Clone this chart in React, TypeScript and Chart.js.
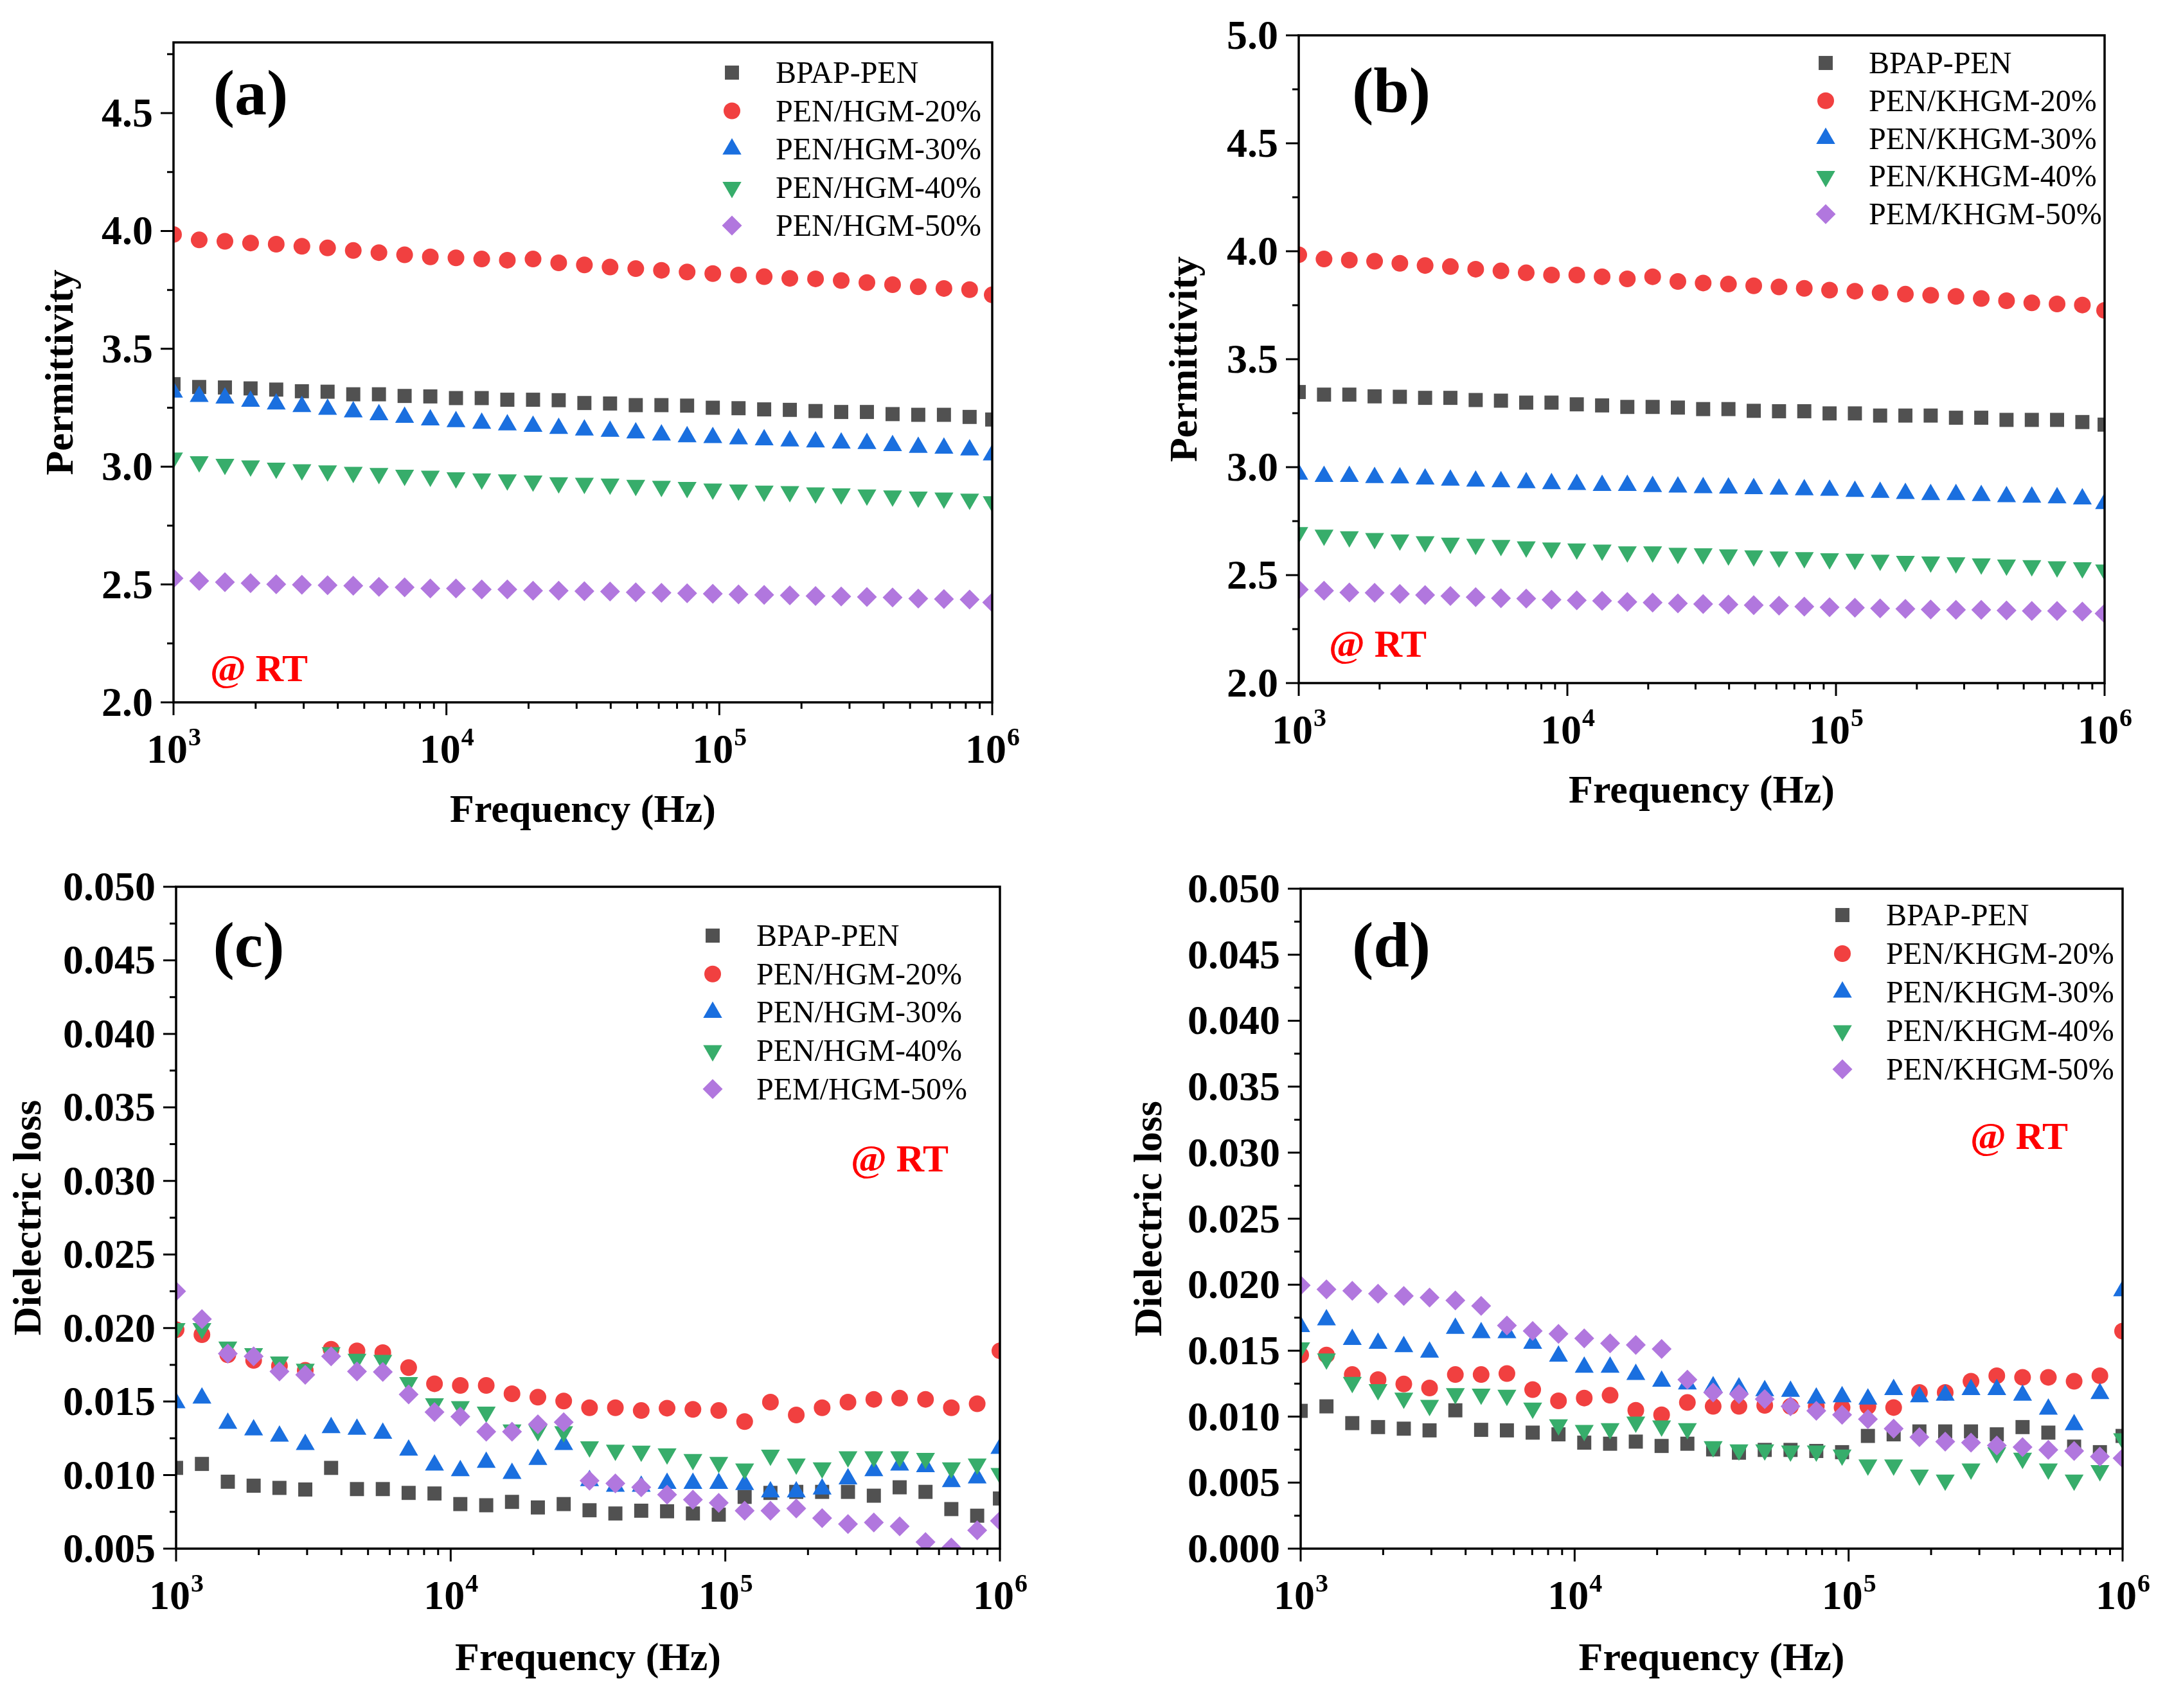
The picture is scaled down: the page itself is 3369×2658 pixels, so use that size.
import React, { useEffect, useRef } from 'react';
import { Chart, registerables } from 'chart.js';

Chart.register(...registerables);

const SERIF = '"Liberation Serif", "Times New Roman", serif';

// Frequency points (Hz)
const FREQ = [1000, 1242, 1543, 1916, 2379, 2954, 3669, 4557, 5659, 7028, 8730, 10840, 13470, 16720, 20770, 25790, 32030, 39780, 49410, 61370, 76210, 94650, 117600, 146000, 181300, 225200, 279700, 347400, 431400, 535800, 665400, 826400, 1000000];

const X_TICK_VALUES = [1e3, 1e4, 1e5, 1e6];
const X_TICK_EXPONENTS = ['3', '4', '5', '6'];

// (a) permittivity, HGM
const A_NAMES = ['BPAP-PEN', 'PEN/HGM-20%', 'PEN/HGM-30%', 'PEN/HGM-40%', 'PEN/HGM-50%'];
const A_YTICKS = [2.0, 2.5, 3.0, 3.5, 4.0, 4.5];
const A_BPAP = [3.350, 3.338, 3.336, 3.332, 3.327, 3.320, 3.318, 3.307, 3.307, 3.300, 3.298, 3.291, 3.291, 3.284, 3.284, 3.282, 3.270, 3.268, 3.261, 3.261, 3.259, 3.250, 3.248, 3.243, 3.241, 3.236, 3.232, 3.232, 3.223, 3.220, 3.220, 3.211, 3.200];
const A_20 = [3.985, 3.962, 3.956, 3.949, 3.944, 3.935, 3.928, 3.917, 3.908, 3.899, 3.890, 3.886, 3.881, 3.876, 3.881, 3.865, 3.856, 3.847, 3.840, 3.833, 3.826, 3.819, 3.813, 3.806, 3.799, 3.797, 3.790, 3.781, 3.772, 3.763, 3.756, 3.751, 3.729];
const A_30 = [3.316, 3.298, 3.291, 3.277, 3.266, 3.255, 3.243, 3.232, 3.220, 3.209, 3.198, 3.191, 3.184, 3.177, 3.171, 3.162, 3.155, 3.150, 3.143, 3.134, 3.127, 3.123, 3.118, 3.114, 3.109, 3.105, 3.100, 3.098, 3.089, 3.082, 3.078, 3.071, 3.050];
const A_40 = [3.037, 3.021, 3.010, 3.003, 2.994, 2.987, 2.982, 2.976, 2.971, 2.964, 2.960, 2.953, 2.948, 2.944, 2.939, 2.932, 2.930, 2.926, 2.921, 2.917, 2.912, 2.905, 2.901, 2.896, 2.894, 2.889, 2.885, 2.880, 2.876, 2.871, 2.867, 2.862, 2.851];
const A_50 = [2.526, 2.515, 2.510, 2.506, 2.501, 2.499, 2.497, 2.495, 2.490, 2.488, 2.483, 2.483, 2.479, 2.479, 2.474, 2.474, 2.472, 2.470, 2.467, 2.465, 2.463, 2.461, 2.458, 2.456, 2.454, 2.451, 2.449, 2.447, 2.445, 2.440, 2.438, 2.436, 2.424];

// (b) permittivity, KHGM
const B_NAMES = ['BPAP-PEN', 'PEN/KHGM-20%', 'PEN/KHGM-30%', 'PEN/KHGM-40%', 'PEM/KHGM-50%'];
const B_YTICKS = [2.0, 2.5, 3.0, 3.5, 4.0, 4.5, 5.0];
const B_BPAP = [3.348, 3.336, 3.336, 3.328, 3.326, 3.321, 3.321, 3.311, 3.308, 3.299, 3.299, 3.291, 3.286, 3.279, 3.279, 3.276, 3.269, 3.269, 3.261, 3.259, 3.259, 3.249, 3.249, 3.239, 3.239, 3.239, 3.229, 3.229, 3.219, 3.219, 3.219, 3.209, 3.197];
const B_20 = [3.984, 3.964, 3.959, 3.954, 3.944, 3.934, 3.929, 3.917, 3.909, 3.900, 3.890, 3.890, 3.882, 3.872, 3.882, 3.860, 3.853, 3.848, 3.840, 3.835, 3.828, 3.820, 3.815, 3.808, 3.801, 3.796, 3.791, 3.781, 3.771, 3.761, 3.756, 3.751, 3.726];
const B_30 = [2.967, 2.957, 2.957, 2.952, 2.950, 2.945, 2.940, 2.935, 2.932, 2.928, 2.923, 2.920, 2.915, 2.915, 2.910, 2.908, 2.905, 2.903, 2.900, 2.898, 2.895, 2.893, 2.888, 2.883, 2.878, 2.873, 2.873, 2.868, 2.863, 2.861, 2.858, 2.853, 2.831];
const B_40 = [2.697, 2.685, 2.678, 2.670, 2.663, 2.655, 2.648, 2.643, 2.638, 2.631, 2.626, 2.621, 2.616, 2.608, 2.608, 2.601, 2.599, 2.594, 2.589, 2.584, 2.581, 2.576, 2.574, 2.569, 2.564, 2.561, 2.557, 2.552, 2.547, 2.544, 2.539, 2.534, 2.524];
const B_50 = [2.433, 2.428, 2.420, 2.418, 2.413, 2.408, 2.403, 2.398, 2.393, 2.391, 2.386, 2.383, 2.381, 2.376, 2.373, 2.369, 2.366, 2.364, 2.361, 2.359, 2.354, 2.351, 2.349, 2.346, 2.344, 2.341, 2.339, 2.339, 2.336, 2.334, 2.334, 2.331, 2.322];

// (c) dielectric loss, HGM
const C_NAMES = ['BPAP-PEN', 'PEN/HGM-20%', 'PEN/HGM-30%', 'PEN/HGM-40%', 'PEM/HGM-50%'];
const C_YTICKS = [0.005, 0.010, 0.015, 0.020, 0.025, 0.030, 0.035, 0.040, 0.045, 0.050];
const C_BPAP = [0.01049, 0.01076, 0.00955, 0.00928, 0.00913, 0.00902, 0.01049, 0.00905, 0.00905, 0.00879, 0.00875, 0.00803, 0.00795, 0.00818, 0.00780, 0.00803, 0.00761, 0.00739, 0.00758, 0.00754, 0.00739, 0.00731, 0.00852, 0.00879, 0.00886, 0.00886, 0.00886, 0.00860, 0.00917, 0.00886, 0.00769, 0.00724, 0.00841];
const C_20 = [0.01989, 0.01955, 0.01818, 0.01780, 0.01742, 0.01712, 0.01856, 0.01845, 0.01833, 0.01731, 0.01621, 0.01610, 0.01610, 0.01553, 0.01530, 0.01504, 0.01458, 0.01458, 0.01439, 0.01455, 0.01447, 0.01439, 0.01364, 0.01496, 0.01409, 0.01458, 0.01496, 0.01515, 0.01523, 0.01515, 0.01458, 0.01485, 0.01845];
const C_30 = [0.01492, 0.01523, 0.01352, 0.01307, 0.01265, 0.01208, 0.01322, 0.01311, 0.01284, 0.01170, 0.01068, 0.01030, 0.01087, 0.01011, 0.01106, 0.01208, 0.00962, 0.00924, 0.00924, 0.00943, 0.00943, 0.00943, 0.00936, 0.00886, 0.00886, 0.00905, 0.00974, 0.01030, 0.01068, 0.01057, 0.00955, 0.00981, 0.01182];
const C_40 = [0.01996, 0.01996, 0.01871, 0.01826, 0.01769, 0.01720, 0.01833, 0.01788, 0.01780, 0.01629, 0.01485, 0.01466, 0.01428, 0.01307, 0.01303, 0.01295, 0.01193, 0.01170, 0.01163, 0.01144, 0.01106, 0.01087, 0.01042, 0.01136, 0.01076, 0.01049, 0.01125, 0.01125, 0.01125, 0.01114, 0.01049, 0.01076, 0.01011];
const C_50 = [0.02250, 0.02061, 0.01826, 0.01807, 0.01705, 0.01682, 0.01807, 0.01705, 0.01701, 0.01549, 0.01428, 0.01398, 0.01295, 0.01295, 0.01345, 0.01360, 0.00962, 0.00943, 0.00917, 0.00867, 0.00833, 0.00811, 0.00758, 0.00758, 0.00773, 0.00708, 0.00667, 0.00678, 0.00652, 0.00545, 0.00508, 0.00625, 0.00689];

// (d) dielectric loss, KHGM
const D_NAMES = ['BPAP-PEN', 'PEN/KHGM-20%', 'PEN/KHGM-30%', 'PEN/KHGM-40%', 'PEN/KHGM-50%'];
const D_YTICKS = [0.000, 0.005, 0.010, 0.015, 0.020, 0.025, 0.030, 0.035, 0.040, 0.045, 0.050];
const D_BPAP = [0.01044, 0.01078, 0.00951, 0.00921, 0.00909, 0.00896, 0.01048, 0.00900, 0.00896, 0.00879, 0.00866, 0.00803, 0.00795, 0.00811, 0.00778, 0.00795, 0.00752, 0.00727, 0.00748, 0.00748, 0.00740, 0.00731, 0.00854, 0.00866, 0.00888, 0.00888, 0.00888, 0.00866, 0.00921, 0.00879, 0.00773, 0.00731, 0.00854];
const D_20 = [0.01467, 0.01467, 0.01319, 0.01281, 0.01247, 0.01217, 0.01319, 0.01319, 0.01327, 0.01205, 0.01120, 0.01141, 0.01162, 0.01048, 0.01014, 0.01107, 0.01078, 0.01078, 0.01086, 0.01078, 0.01078, 0.01069, 0.01078, 0.01069, 0.01183, 0.01183, 0.01268, 0.01310, 0.01298, 0.01298, 0.01268, 0.01310, 0.01648];
const D_30 = [0.01682, 0.01733, 0.01585, 0.01555, 0.01530, 0.01488, 0.01669, 0.01636, 0.01636, 0.01555, 0.01458, 0.01374, 0.01374, 0.01319, 0.01268, 0.01247, 0.01226, 0.01217, 0.01196, 0.01192, 0.01141, 0.01150, 0.01133, 0.01205, 0.01150, 0.01162, 0.01205, 0.01205, 0.01162, 0.01057, 0.00938, 0.01175, 0.01953];
const D_40 = [0.01522, 0.01437, 0.01260, 0.01205, 0.01141, 0.01086, 0.01175, 0.01171, 0.01162, 0.01065, 0.00938, 0.00896, 0.00909, 0.00959, 0.00930, 0.00909, 0.00773, 0.00748, 0.00748, 0.00740, 0.00740, 0.00710, 0.00634, 0.00634, 0.00558, 0.00520, 0.00604, 0.00727, 0.00685, 0.00604, 0.00520, 0.00592, 0.00833];
const D_50 = [0.01995, 0.01965, 0.01953, 0.01932, 0.01915, 0.01902, 0.01881, 0.01839, 0.01691, 0.01649, 0.01627, 0.01593, 0.01555, 0.01543, 0.01513, 0.01281, 0.01183, 0.01171, 0.01133, 0.01078, 0.01044, 0.01014, 0.00981, 0.00909, 0.00845, 0.00811, 0.00803, 0.00782, 0.00769, 0.00748, 0.00740, 0.00697, 0.00685];

const COLORS = ['#515151', '#F14040', '#1A6FDF', '#37AD6B', '#B177DE'];
const MARKERS = [
  { style: 'rect', radius: 15.5, rotation: 0 },
  { style: 'circle', radius: 13, rotation: 0 },
  { style: 'triangle', radius: 17, rotation: 0 },
  { style: 'triangle', radius: 17, rotation: 180 },
  { style: 'rectRot', radius: 15.5, rotation: 0 },
];

type PanelDef = {
  id: string;
  canvas: { x: number; y: number; w: number; h: number };
  plot: { l: number; t: number; r: number; b: number };
  yMin: number;
  yMax: number;
  yTicks: number[];
  yDec: number;
  yTitle: string;
  yTitleX: number;
  names: string[];
  series: number[][];
  letter: string;
  letterX: number;
  letterY: number;
  rtX: number;
  rtY: number;
  legMarkX: number;
  legTextX: number;
  legY0: number;
  legDy: number;
  xTitleDy: number;
};

const PANELS: PanelDef[] = [
  {
    id: 'a', canvas: { x: 0, y: 0, w: 1685, h: 1329 }, plot: { l: 270, t: 66, r: 1544, b: 1093 },
    yMin: 2.0, yMax: 4.8, yTicks: A_YTICKS, yDec: 1, yTitle: 'Permittivity', yTitleX: 97,
    names: A_NAMES, series: [A_BPAP, A_20, A_30, A_40, A_50],
    letter: '(a)', letterX: 390, letterY: 152, rtX: 327, rtY: 1040,
    legMarkX: 1139, legTextX: 1207, legY0: 113, legDy: 59.5, xTitleDy: 170,
  },
  {
    id: 'b', canvas: { x: 1685, y: 0, w: 1684, h: 1329 }, plot: { l: 2021, t: 55, r: 3275, b: 1063 },
    yMin: 2.0, yMax: 5.0, yTicks: B_YTICKS, yDec: 1, yTitle: 'Permittivity', yTitleX: 1846,
    names: B_NAMES, series: [B_BPAP, B_20, B_30, B_40, B_50],
    letter: '(b)', letterX: 2165, letterY: 148, rtX: 2068, rtY: 1002,
    legMarkX: 2841, legTextX: 2908, legY0: 98, legDy: 58.8, xTitleDy: 170,
  },
  {
    id: 'c', canvas: { x: 0, y: 1329, w: 1685, h: 1329 }, plot: { l: 274, t: 1380, r: 1556, b: 2410 },
    yMin: 0.005, yMax: 0.050, yTicks: C_YTICKS, yDec: 3, yTitle: 'Dielectric loss', yTitleX: 47,
    names: C_NAMES, series: [C_BPAP, C_20, C_30, C_40, C_50],
    letter: '(c)', letterX: 387, letterY: 1478, rtX: 1324, rtY: 1803,
    legMarkX: 1109, legTextX: 1177, legY0: 1456, legDy: 59.7, xTitleDy: 173,
  },
  {
    id: 'd', canvas: { x: 1685, y: 1329, w: 1684, h: 1329 }, plot: { l: 2024, t: 1383, r: 3303, b: 2410 },
    yMin: 0.0, yMax: 0.050, yTicks: D_YTICKS, yDec: 3, yTitle: 'Dielectric loss', yTitleX: 1791,
    names: D_NAMES, series: [D_BPAP, D_20, D_30, D_40, D_50],
    letter: '(d)', letterX: 2165, letterY: 1478, rtX: 3066, rtY: 1768,
    legMarkX: 2867, legTextX: 2935, legY0: 1424, legDy: 60, xTitleDy: 173,
  },
];

function drawMarker(ctx: CanvasRenderingContext2D, idx: number, x: number, y: number) {
  const m = MARKERS[idx];
  const r = m.radius;
  ctx.save();
  ctx.fillStyle = COLORS[idx];
  ctx.beginPath();
  if (m.style === 'rect') {
    const s = Math.SQRT1_2 * r;
    ctx.rect(x - s, y - s, 2 * s, 2 * s);
  } else if (m.style === 'circle') {
    ctx.arc(x, y, r, 0, Math.PI * 2);
  } else if (m.style === 'triangle') {
    let a = (m.rotation * Math.PI) / 180;
    ctx.moveTo(x + Math.sin(a) * r, y - Math.cos(a) * r);
    a += (2 * Math.PI) / 3;
    ctx.lineTo(x + Math.sin(a) * r, y - Math.cos(a) * r);
    a += (2 * Math.PI) / 3;
    ctx.lineTo(x + Math.sin(a) * r, y - Math.cos(a) * r);
    ctx.closePath();
  } else {
    ctx.moveTo(x - r, y);
    ctx.lineTo(x, y - r);
    ctx.lineTo(x + r, y);
    ctx.lineTo(x, y + r);
    ctx.closePath();
  }
  ctx.fill();
  ctx.restore();
}

function makeDecor(p: PanelDef) {
  return {
    id: 'decor' + p.id,
    afterDraw(chart: any) {
      const ctx: CanvasRenderingContext2D = chart.ctx;
      const a = chart.chartArea;
      const xs = chart.scales.x;
      const ys = chart.scales.y;
      const ox = p.canvas.x;
      const oy = p.canvas.y;
      ctx.save();
      // frame
      ctx.strokeStyle = '#000';
      ctx.lineWidth = 3.5;
      ctx.strokeRect(a.left, a.top, a.right - a.left, a.bottom - a.top);
      // ticks
      ctx.lineWidth = 3;
      ctx.beginPath();
      const step = p.yTicks[1] - p.yTicks[0];
      p.yTicks.forEach((v) => {
        const y = ys.getPixelForValue(v);
        ctx.moveTo(a.left - 20, y);
        ctx.lineTo(a.left, y);
        const mv = v + step / 2;
        if (mv < p.yMax + 1e-9) {
          const ym = ys.getPixelForValue(mv);
          ctx.moveTo(a.left - 10, ym);
          ctx.lineTo(a.left, ym);
        }
      });
      X_TICK_VALUES.forEach((v) => {
        const x = xs.getPixelForValue(v);
        ctx.moveTo(x, a.bottom);
        ctx.lineTo(x, a.bottom + 20);
      });
      [1e3, 1e4, 1e5].forEach((dec) => {
        for (let m = 2; m <= 9; m++) {
          const x = xs.getPixelForValue(m * dec);
          ctx.moveTo(x, a.bottom);
          ctx.lineTo(x, a.bottom + 10);
        }
      });
      ctx.stroke();

      ctx.fillStyle = '#000';
      // y tick labels
      ctx.font = `bold 64px ${SERIF}`;
      ctx.textAlign = 'right';
      ctx.textBaseline = 'alphabetic';
      p.yTicks.forEach((v) => {
        const y = ys.getPixelForValue(v);
        ctx.fillText(v.toFixed(p.yDec), a.left - 32, y + 21);
      });
      // x tick labels
      const base = a.bottom + 73 + 21;
      X_TICK_VALUES.forEach((v, i) => {
        const x = xs.getPixelForValue(v);
        const exp = X_TICK_EXPONENTS[i];
        ctx.font = `bold 64px ${SERIF}`;
        const w1 = ctx.measureText('10').width;
        ctx.font = `bold 40px ${SERIF}`;
        const w2 = ctx.measureText(exp).width;
        const start = x - (w1 + w2) / 2;
        ctx.textAlign = 'left';
        ctx.font = `bold 64px ${SERIF}`;
        ctx.fillText('10', start, base);
        ctx.font = `bold 40px ${SERIF}`;
        ctx.fillText(exp, start + w1 + 1, base - 27);
      });
      // axis titles
      ctx.font = `bold 62px ${SERIF}`;
      ctx.textAlign = 'center';
      ctx.textBaseline = 'middle';
      ctx.fillText('Frequency (Hz)', (a.left + a.right) / 2, a.bottom + p.xTitleDy);
      ctx.save();
      ctx.translate(p.yTitleX - ox, (a.top + a.bottom) / 2);
      ctx.rotate(-Math.PI / 2);
      ctx.fillText(p.yTitle, 0, 0);
      ctx.restore();
      // panel letter
      ctx.font = `bold 100px ${SERIF}`;
      ctx.textAlign = 'center';
      ctx.textBaseline = 'middle';
      ctx.fillText(p.letter, p.letterX - ox, p.letterY - oy);
      // @ RT
      ctx.fillStyle = '#FF0000';
      ctx.font = `bold 60px ${SERIF}`;
      ctx.textAlign = 'left';
      ctx.textBaseline = 'alphabetic';
      ctx.fillText('@ RT', p.rtX - ox, p.rtY - oy + 20);
      // legend
      ctx.font = `48px ${SERIF}`;
      ctx.fillStyle = '#000';
      p.names.forEach((name, i) => {
        const y = p.legY0 - oy + i * p.legDy;
        drawMarker(ctx, i, p.legMarkX - ox, y);
        ctx.fillStyle = '#000';
        ctx.fillText(name, p.legTextX - ox, y + 16);
      });
      ctx.restore();
    },
  };
}

function Panel({ p }: { p: PanelDef }) {
  const ref = useRef<HTMLCanvasElement>(null);
  useEffect(() => {
    const c = ref.current;
    if (!c) return;
    const L = p.plot.l - p.canvas.x;
    const T = p.plot.t - p.canvas.y;
    const R = p.plot.r - p.canvas.x;
    const B = p.plot.b - p.canvas.y;
    const chart = new Chart(c, {
      type: 'scatter',
      data: {
        datasets: p.series.map((vals, i) => ({
          label: p.names[i],
          data: FREQ.map((f, j) => ({ x: f, y: vals[j] })),
          pointStyle: MARKERS[i].style as any,
          pointRadius: MARKERS[i].radius,
          pointRotation: MARKERS[i].rotation,
          backgroundColor: COLORS[i],
          borderColor: COLORS[i],
          pointBorderWidth: 0,
          showLine: false,
          clip: 0,
          order: 4 - i,
        })),
      },
      options: {
        animation: false,
        responsive: false,
        maintainAspectRatio: false,
        devicePixelRatio: 1,
        events: [],
        layout: { padding: { left: 0, top: T, right: p.canvas.w - R, bottom: 0 } },
        plugins: { legend: { display: false }, tooltip: { enabled: false }, title: { display: false } },
        scales: {
          x: {
            type: 'logarithmic',
            min: 1e3,
            max: 1e6,
            grid: { display: false },
            border: { display: false },
            ticks: { display: false },
            afterFit: (s: any) => { s.height = p.canvas.h - B; },
          },
          y: {
            type: 'linear',
            min: p.yMin,
            max: p.yMax,
            grid: { display: false },
            border: { display: false },
            ticks: { display: false },
            afterFit: (s: any) => { s.width = L; },
          },
        },
      } as any,
      plugins: [makeDecor(p)],
    });
    return () => chart.destroy();
  }, [p]);
  return (
    <canvas
      ref={ref}
      width={p.canvas.w}
      height={p.canvas.h}
      style={{ position: 'absolute', left: p.canvas.x, top: p.canvas.y, width: p.canvas.w, height: p.canvas.h }}
    />
  );
}

export default function App() {
  return (
    <div style={{ position: 'absolute', left: 0, top: 0, width: 3369, height: 2658, background: '#fff', overflow: 'hidden' }}>
      {PANELS.map((p) => (
        <Panel key={p.id} p={p} />
      ))}
    </div>
  );
}
